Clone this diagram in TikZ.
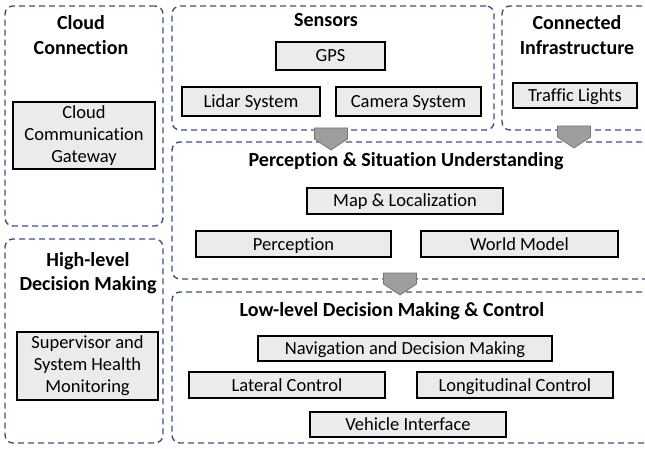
\documentclass[tikz,border=0pt]{standalone}
\usepackage{fontspec}
\setmainfont{Carlito}[Ligatures={NoCommon,NoRare}]
\usepackage{tikz}
\definecolor{panelblue}{HTML}{3E5282}
\definecolor{boxgray}{HTML}{EBEBEB}
\definecolor{tipgray}{HTML}{9E9E9E}

\begin{document}
\begin{tikzpicture}[x=1pt, y=-1pt,
    panel/.style={draw=panelblue, line width=1.4pt, dash pattern=on 6pt off 4pt, rounded corners=8pt, inner sep=0pt},
    unit/.style={draw=black, line width=1.2pt, fill=boxgray, font=\fontsize{18.5}{22}\selectfont, inner sep=0pt, align=center},
    oneline/.style={unit, text height=12pt, text depth=0pt},
    title/.style={font=\bfseries\fontsize{20}{24.5}\selectfont, align=center},
    flowtip/.pic={\draw[fill=tipgray, draw=tipgray!75!black, line width=0.8pt]
        (-16.5,0) -- (16.5,0) -- (16.5,11) -- (0,22) -- (-16.5,11) -- cycle;}]
    \useasboundingbox (0,0) rectangle (645,449);
    \clip (0,0) rectangle (645,449);
    % panels
    \node[panel, minimum width=158, minimum height=220] (cloud) at (84,116) {};
    \node[panel, minimum width=158, minimum height=204] (highlvl) at (84,341) {};
    \node[panel, minimum width=322, minimum height=124] (sensors) at (333,68) {};
    \node[panel, minimum width=168, minimum height=124] (infra) at (586,68) {};
    \node[panel, minimum width=508, minimum height=137] (percep) at (426,210.5) {};
    \node[panel, minimum width=508, minimum height=151] (lowlvl) at (426,367.5) {};
    % titles
    \node[title] (cloudT) at (81,35) {Cloud\\Connection};
    \node[title] (highT) at (88,273) {High-level\\Decision Making};
    \node[title] (sensT) at (326,20) {Sensors};
    \node[title] (infraT) at (577,35) {Connected\\Infrastructure};
    \node[title] (percT) at (406,161) {Perception \& Situation Understanding};
    \node[title] (lowT) at (392,311) {Low-level Decision Making \& Control};
    % units
    \node[unit, minimum width=142, minimum height=67] (gateway) at (84,135.5) {Cloud\\Communication\\Gateway};
    \node[unit, minimum width=141, minimum height=68] (supervisor) at (87.5,366) {Supervisor and\\System Health\\Monitoring};
    \node[oneline, minimum width=109, minimum height=28] (gps) at (330.5,56) {GPS};
    \node[oneline, minimum width=138, minimum height=29] (lidar) at (251,101.5) {Lidar System};
    \node[oneline, minimum width=145, minimum height=29] (camera) at (408.5,101.5) {Camera System};
    \node[oneline, minimum width=124, minimum height=25] (traffic) at (575,95.5) {Traffic Lights};
    \node[oneline, minimum width=196, minimum height=26] (map) at (405,201) {Map \& Localization};
    \node[oneline, minimum width=195, minimum height=26] (perception) at (293.5,244) {Perception};
    \node[oneline, minimum width=197, minimum height=26] (world) at (519.5,244) {World Model};
    \node[oneline, minimum width=294, minimum height=25] (nav) at (405,348.5) {Navigation and Decision Making};
    \node[oneline, minimum width=196, minimum height=26] (lateral) at (287,385) {Lateral Control};
    \node[oneline, minimum width=196, minimum height=26] (longit) at (515,385) {Longitudinal Control};
    \node[oneline, minimum width=196, minimum height=25] (vehicle) at (408,424.5) {Vehicle Interface};
    % flow tips
    \pic at (331,128) {flowtip};
    \pic at (574,126) {flowtip};
    \pic at (400,273) {flowtip};
\end{tikzpicture}
\end{document}
